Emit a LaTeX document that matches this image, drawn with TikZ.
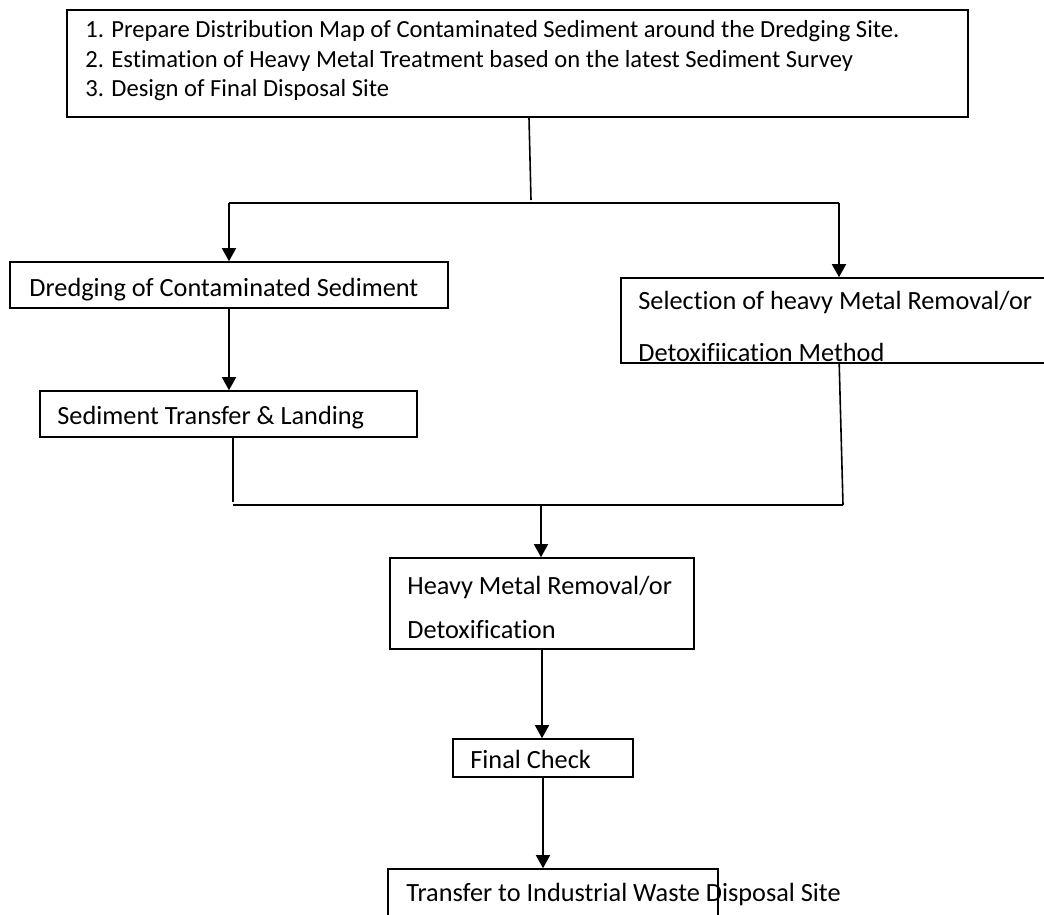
\documentclass[tikz,border=0pt]{standalone}
\usepackage{fontspec}
\setmainfont{Carlito}[Ligatures=NoCommon]
\usetikzlibrary{positioning,calc,fit,arrows.meta}

\begin{document}
\begin{tikzpicture}[x=0.5pt,y=-0.5pt,
    box/.style={draw, line width=0.8pt, inner sep=0pt},
    txt/.style={anchor=base west, inner sep=0pt, align=left, font=\fontsize{13.15}{14.75}\selectfont},
    link/.style={line width=0.8pt},
    arr/.style={line width=0.8pt, -{Triangle[width=7pt,length=6.5pt]}}]

    \useasboundingbox (0,0) rectangle (1044,915);

    % texts (base = last line)
    \node[txt, font=\fontsize{12.3}{14.9}\selectfont] (topT) at (85,97) {1. Prepare Distribution Map of Contaminated Sediment around the Dredging Site.\\
        2. Estimation of Heavy Metal Treatment based on the latest Sediment Survey\\
        3. Design of Final Disposal Site};
    \node[txt] (dredgeT) at (29,296) {Dredging of Contaminated Sediment};
    \node[txt] (sedimT) at (57,424) {Sediment Transfer \& Landing};
    \node[txt, font=\fontsize{13.15}{26}\selectfont] (selT) at (638,361) {Selection of heavy Metal Removal/or\\Detoxifiication Method};
    \node[txt, font=\fontsize{13.15}{22}\selectfont] (heavyT) at (407,638) {Heavy Metal Removal/or\\Detoxification};
    \node[txt] (finalT) at (470,768) {Final Check};
    \node[txt] (transT) at (406,901) {Transfer to Industrial Waste Disposal Site};

    % boxes
    \node[box, fit={(67,10) (968,117)}] (top) {};
    \node[box, fit={(10,262) (448,308)}] (dredge) {};
    \node[box, fit={(40,391) (417,437)}] (sedim) {};
    \node[box, fit={(621,278) (1060,363)}] (sel) {};
    \node[box, fit={(390,558) (694,649)}] (heavy) {};
    \node[box, fit={(453,739) (633,777)}] (final) {};
    \node[box, fit={(388,869) (718,940)}] (trans) {};

    % fork and join points
    \coordinate (forkT) at (531,200);
    \coordinate (forkL) at (229,203);
    \coordinate (forkR) at (839,203);
    \coordinate (joinL) at (233,505);
    \coordinate (joinR) at (843,505);
    \coordinate (joinM) at (541,505);

    % connectors
    \draw[link] (top.south) ++(11.5,0) -- (forkT);
    \draw[link] (forkL) -- (forkR);
    \draw[arr] (forkL) -- (forkL |- dredge.north);
    \draw[arr] (forkR) -- (forkR |- sel.north);
    \draw[arr] (dredge.south) -- (dredge.south |- sedim.north);
    \draw[link] ($(sedim.south)+(4.5,0)$) -- ($(joinL)+(0,-3)$);
    \draw[link] (sel.south west) ++(219,0) -- (joinR);
    \draw[link] (joinL) -- (joinR);
    \draw[arr] (joinM) -- (joinM |- heavy.north);
    \draw[arr] (heavy.south) -- (heavy.south |- final.north);
    \draw[arr] (final.south) -- (final.south |- trans.north);

\end{tikzpicture}
\end{document}
